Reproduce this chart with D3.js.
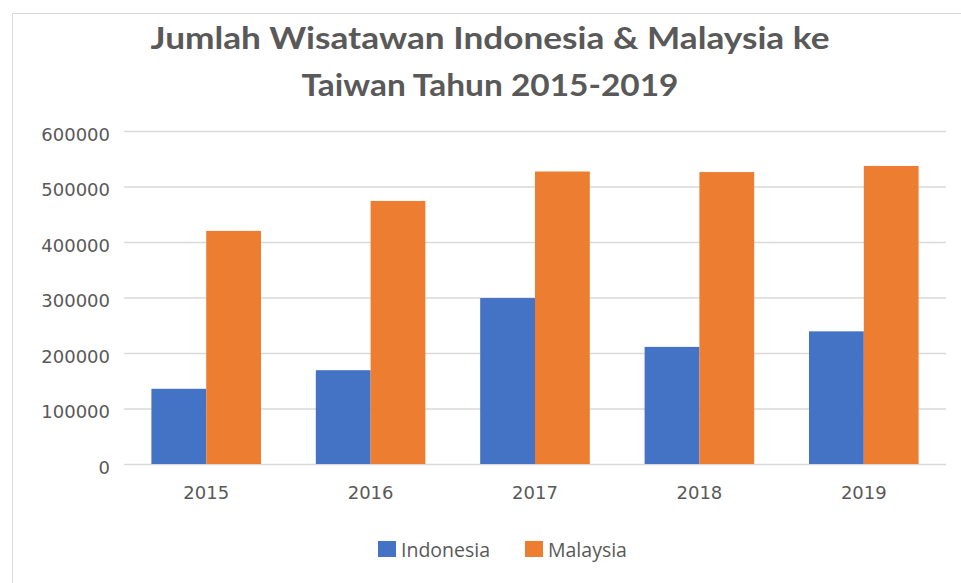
<!DOCTYPE html>
<html>
<head>
<meta charset="utf-8">
<script src="https://cdn.jsdelivr.net/npm/d3@7"></script>
<style>
  body { margin: 0; background: #fff; }
  svg { display: block; }
</style>
</head>
<body>
<div class="chart"></div>
<script>
// Data
const years = ["2015", "2016", "2017", "2018", "2019"];
const seriesNames = ["Indonesia", "Malaysia"];
const indonesia = [135500, 169000, 299000, 211000, 239000];
const malaysia = [420000, 474000, 527000, 526000, 537000];
const yTicks = [0, 100000, 200000, 300000, 400000, 500000, 600000];
const titleLines = ["Jumlah Wisatawan Indonesia & Malaysia ke", "Taiwan Tahun 2015-2019"];

const colors = { Indonesia: "#4472C4", Malaysia: "#ED7D31" };
const textColor = "#595959";
const gridColor = "#d9d9d9";

const width = 961, height = 583;
const margin = { top: 131, right: 15, bottom: 119, left: 124 };

const svg = d3.select(".chart").append("svg")
  .attr("width", width)
  .attr("height", height);

// chart area border
svg.append("rect")
  .attr("x", 12.5).attr("y", 13.5)
  .attr("width", width).attr("height", height)
  .attr("fill", "#fff")
  .attr("stroke", gridColor);

// Title (two lines, stretched to the reference width)
svg.append("g")
  .selectAll("text")
  .data(titleLines)
  .join("text")
  .attr("x", 490)
  .attr("y", (d, i) => i === 0 ? 49 : 96)
  .attr("text-anchor", "middle")
  .attr("textLength", (d, i) => i === 0 ? 679 : 377)
  .attr("lengthAdjust", "spacingAndGlyphs")
  .style("font-family", "Lato, sans-serif")
  .style("font-weight", "bold")
  .style("font-size", "31px")
  .style("fill", textColor)
  .text(d => d);

// Scales
const x = d3.scaleBand()
  .domain(years)
  .range([margin.left, width - margin.right])
  .paddingInner(1 / 3)
  .paddingOuter(1 / 6);

const xSub = d3.scaleBand()
  .domain(seriesNames)
  .range([0, x.bandwidth()]);

const y = d3.scaleLinear()
  .domain([0, 600000])
  .range([height - margin.bottom, margin.top]);

// Gridlines + y labels
const yAxis = svg.append("g")
  .attr("transform", `translate(${margin.left},0)`)
  .call(d3.axisLeft(y)
    .tickValues(yTicks)
    .tickSize(-(width - margin.right - margin.left))
    .tickPadding(14)
    .tickFormat(d3.format("d")));

yAxis.select(".domain").remove();
yAxis.selectAll(".tick line")
  .attr("stroke", gridColor)
  .attr("stroke-width", 1.3);
yAxis.selectAll(".tick text")
  .attr("dy", "0.5em")
  .style("font-family", "'DejaVu Sans', sans-serif")
  .style("font-size", "18px")
  .style("fill", textColor);

// Bars
const rows = years.map((yr, i) => ({ year: yr, Indonesia: indonesia[i], Malaysia: malaysia[i] }));

svg.append("g")
  .selectAll("g")
  .data(rows)
  .join("g")
  .attr("transform", d => `translate(${x(d.year)},0)`)
  .selectAll("rect")
  .data(d => seriesNames.map(k => ({ key: k, value: d[k] })))
  .join("rect")
  .attr("x", d => xSub(d.key))
  .attr("y", d => y(d.value))
  .attr("width", xSub.bandwidth())
  .attr("height", d => y(0) - y(d.value))
  .attr("fill", d => colors[d.key]);

// x axis labels
const xAxis = svg.append("g")
  .attr("transform", `translate(0,${height - margin.bottom})`)
  .call(d3.axisBottom(x).tickSize(0).tickPadding(22));
xAxis.select(".domain").remove();
xAxis.selectAll(".tick text")
  .style("font-family", "'DejaVu Sans', sans-serif")
  .style("font-size", "18px")
  .style("fill", textColor);

// Legend
const legendX = [378, 525];
const item = svg.append("g")
  .selectAll("g")
  .data(seriesNames)
  .join("g")
  .attr("transform", (d, i) => `translate(${legendX[i]},541)`);
item.append("rect")
  .attr("width", 18)
  .attr("height", 16)
  .attr("fill", d => colors[d]);
item.append("text")
  .attr("x", 23)
  .attr("y", 15.5)
  .style("font-family", "'Open Sans', sans-serif")
  .style("font-size", "19.5px")
  .style("fill", textColor)
  .text(d => d);
</script>
</body>
</html>
